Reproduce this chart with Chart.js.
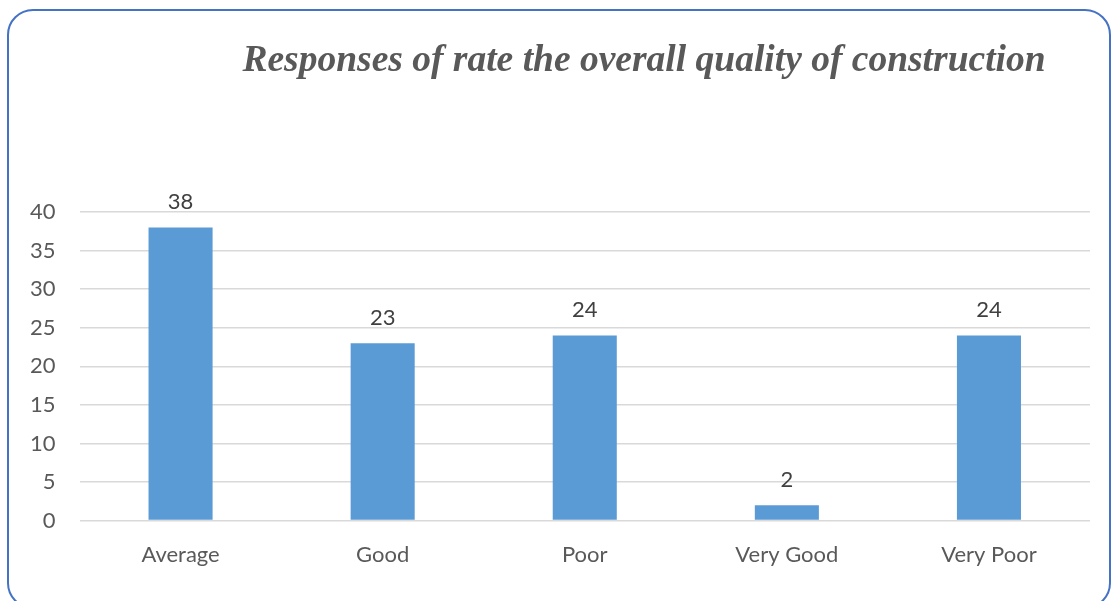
<!DOCTYPE html>
<html>
<head>
<meta charset="utf-8">
<script src="https://cdn.jsdelivr.net/npm/chart.js@4"></script>
<style>
  html, body { margin: 0; padding: 0; background: #fff; }
  #frame {
    position: absolute; left: 7px; top: 9px; width: 1104px; height: 600px;
    border: 2px solid #4472C4; border-radius: 26px; box-sizing: border-box;
  }
  #wrap { position: absolute; left: 0; top: 0; width: 1113px; height: 601px; }
</style>
</head>
<body>
<div id="frame"></div>
<div id="wrap"><canvas id="quality-chart" width="1113" height="601"></canvas></div>
<script>
// Survey: rating of overall construction quality
const categories = ['Average', 'Good', 'Poor', 'Very Good', 'Very Poor'];
const responses = [38, 23, 24, 2, 24];
const yTicks = [0, 5, 10, 15, 20, 25, 30, 35, 40];
const chartTitle = 'Responses of rate the overall quality of construction';

const baseFont = 'Lato, "Open Sans", sans-serif';

// Title sits right of centre, so draw it by hand
const titlePlugin = {
    id: 'titleText',
    afterDraw(chart) {
        const ctx = chart.ctx;
        ctx.save();
        ctx.font = 'italic bold 37.5px "Liberation Serif", "Times New Roman", serif';
        ctx.fillStyle = '#595959';
        ctx.textAlign = 'center';
        ctx.textBaseline = 'alphabetic';
        ctx.fillText(chartTitle, 644, 71);
        ctx.restore();
    }
};

// Value labels above each bar
const valueLabels = {
    id: 'valueLabels',
    afterDatasetsDraw(chart) {
        const ctx = chart.ctx;
        const meta = chart.getDatasetMeta(0);
        ctx.save();
        ctx.font = '22px ' + baseFont;
        ctx.fillStyle = '#404040';
        ctx.textAlign = 'center';
        ctx.textBaseline = 'alphabetic';
        meta.data.forEach((bar, i) => {
            ctx.fillText(String(responses[i]), bar.x, bar.y - 18);
        });
        ctx.restore();
    }
};

function initializeChart() {
    const ctx = document.getElementById('quality-chart').getContext('2d');
    new Chart(ctx, {
        type: 'bar',
        data: {
            labels: categories,
            datasets: [{
                data: responses,
                backgroundColor: '#5B9BD5',
                borderWidth: 0,
                barPercentage: 0.317,
                categoryPercentage: 1.0
            }]
        },
        options: {
            responsive: false,
            animation: false,
            layout: { padding: { top: 212, left: 6, right: 23, bottom: 20 } },
            scales: {
                x: {
                    grid: { display: false },
                    border: { display: false },
                    ticks: { color: '#595959', font: { size: 22, family: baseFont }, padding: 13 }
                },
                y: {
                    min: 0,
                    max: 40,
                    afterBuildTicks(axis) {
                        axis.ticks = yTicks.map(v => ({ value: v }));
                    },
                    grid: { color: '#d9d9d9', lineWidth: 1.5, drawTicks: false },
                    border: { display: false },
                    ticks: { color: '#595959', font: { size: 22, family: baseFont }, padding: 24 }
                }
            },
            plugins: {
                legend: { display: false },
                title: { display: false },
                tooltip: { enabled: false }
            }
        },
        plugins: [titlePlugin, valueLabels]
    });
}

document.addEventListener('DOMContentLoaded', initializeChart);
</script>
</body>
</html>
